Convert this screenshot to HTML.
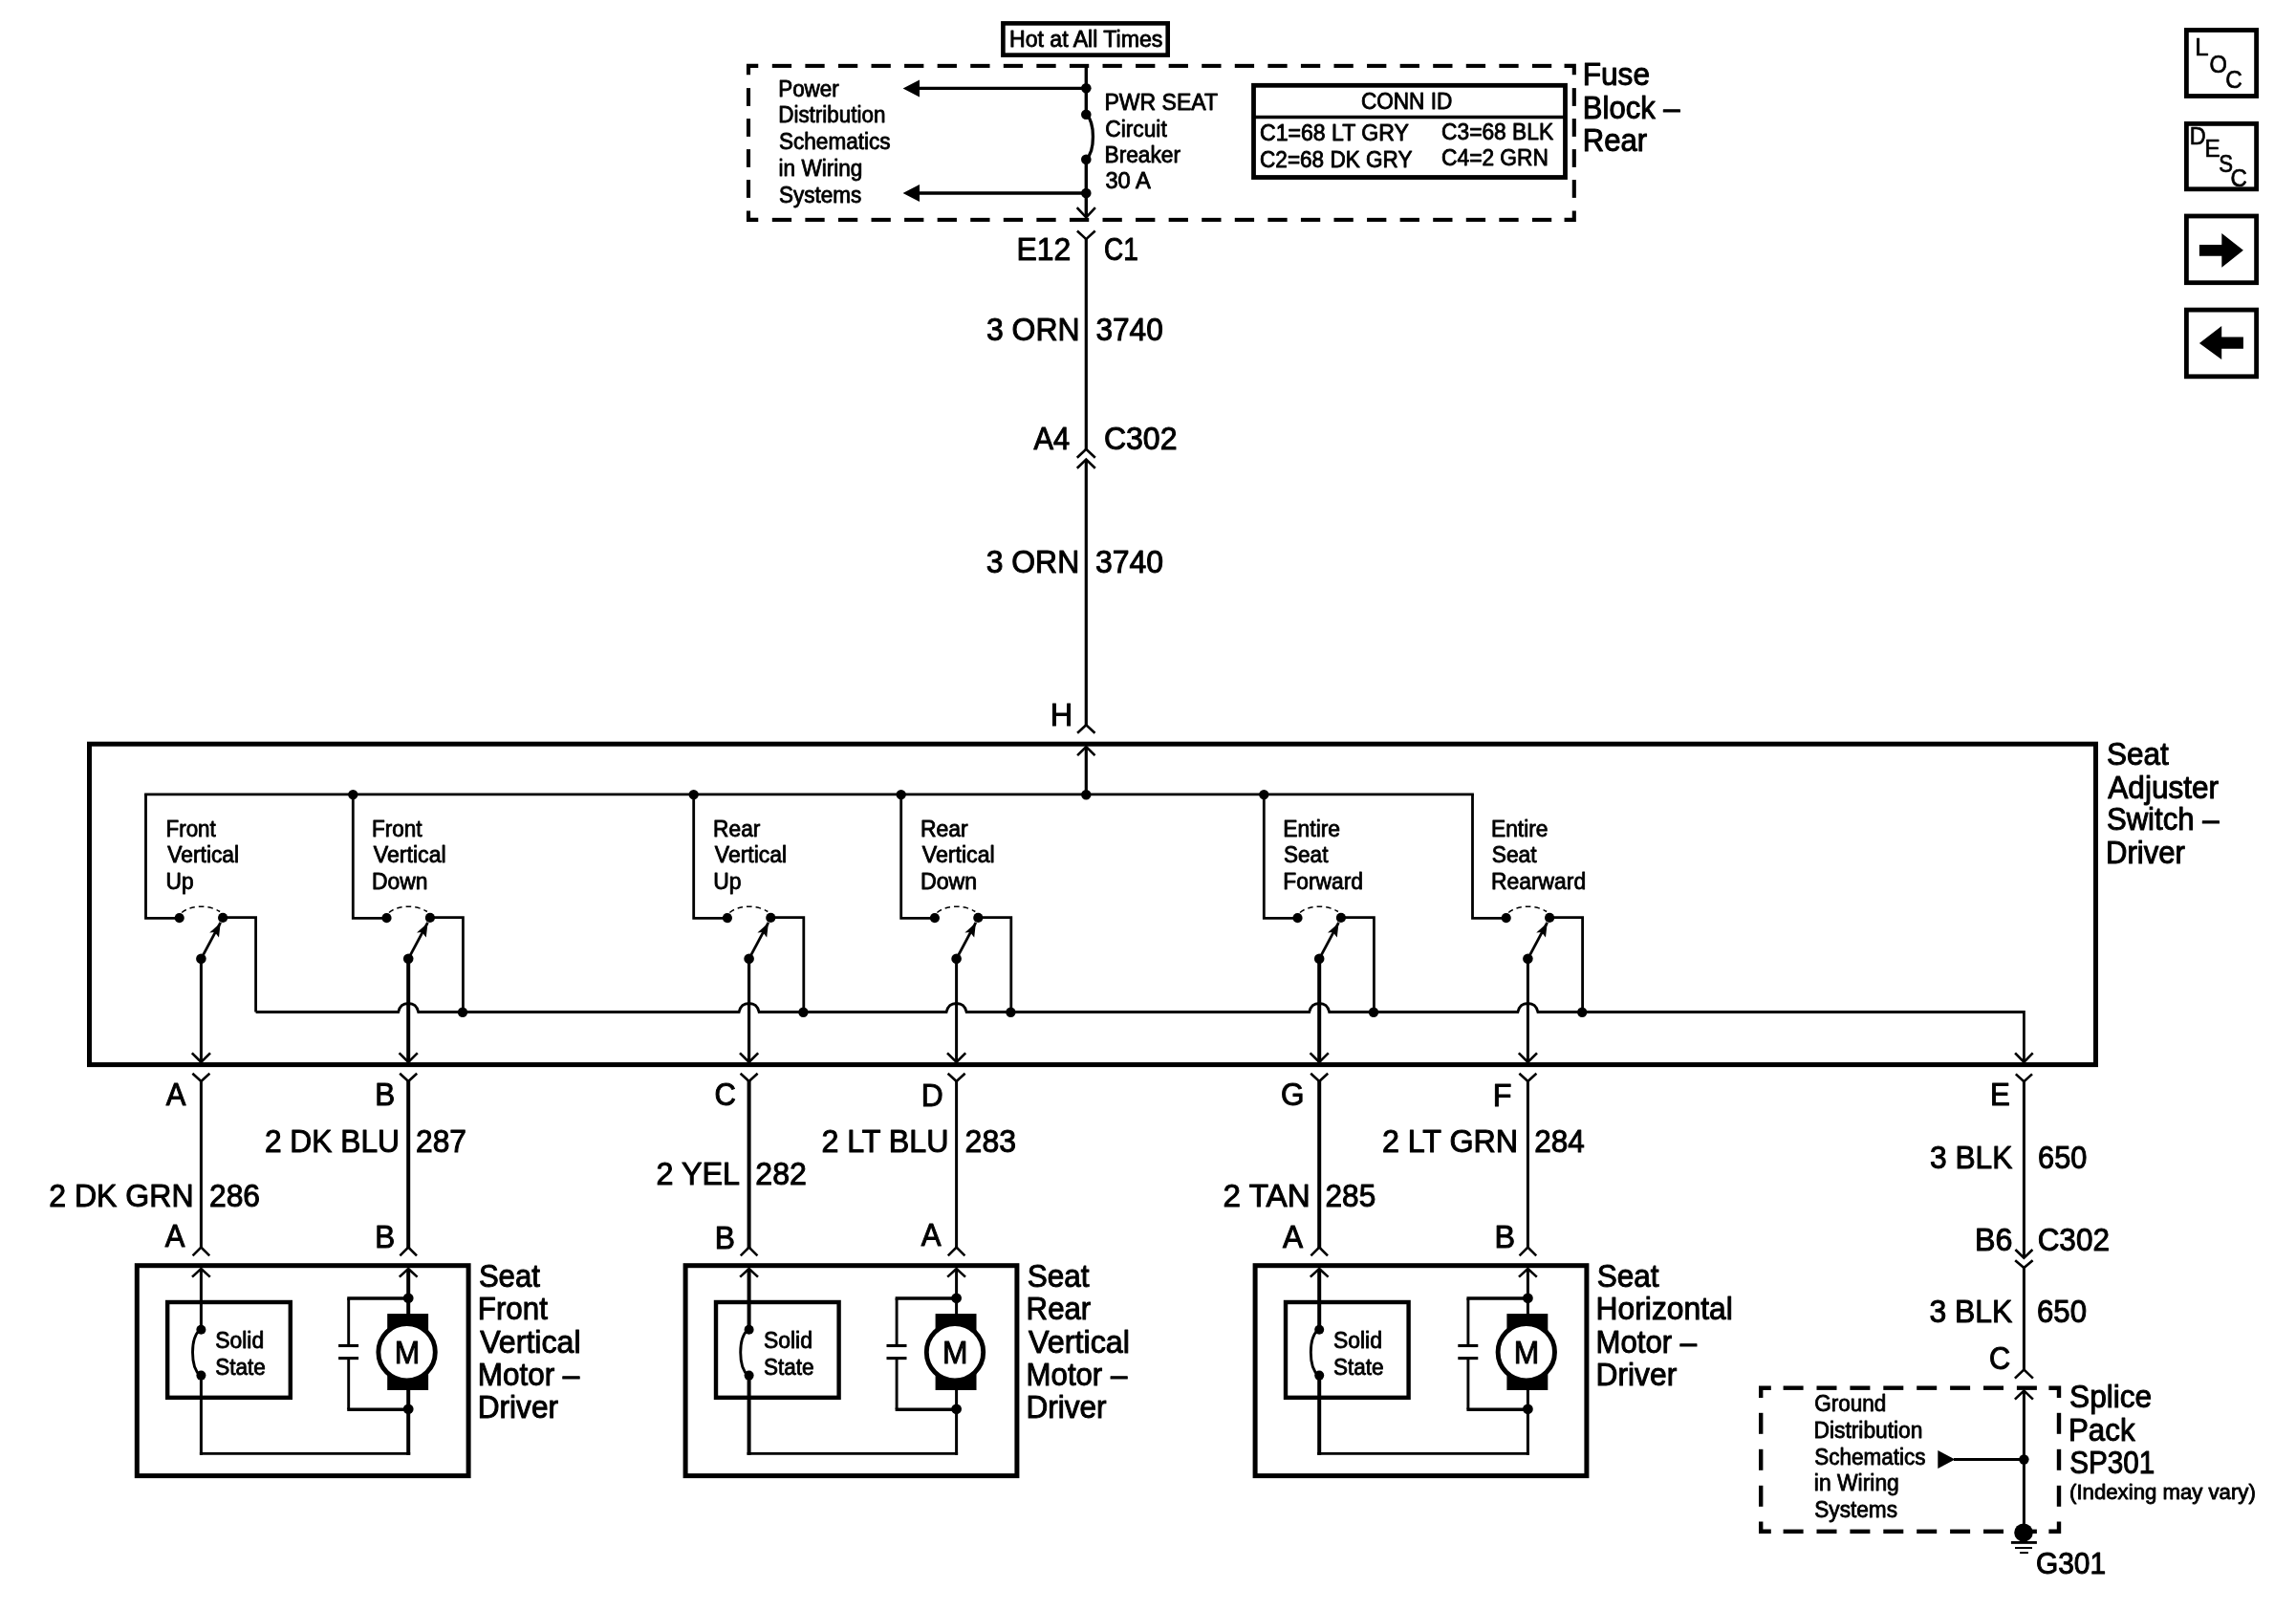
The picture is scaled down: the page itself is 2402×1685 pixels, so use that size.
<!DOCTYPE html>
<html><head><meta charset="utf-8"><title>Driver Seat Adjuster Schematic</title>
<style>
html,body{margin:0;padding:0;background:#fff;}
svg{display:block;will-change:transform;}
text{font-family:"Liberation Sans",sans-serif;fill:#000;}
</style></head>
<body>
<svg width="2402" height="1685" viewBox="0 0 2402 1685" fill="none" stroke="#000">
<rect x="0" y="0" width="2402" height="1685" fill="#fff" stroke="none"/>
<rect x="2287.4" y="31.5" width="73.2" height="69.00000000000001" stroke-width="4.8"/>
<rect x="2287.4" y="129.4" width="73.2" height="68.39999999999999" stroke-width="4.8"/>
<rect x="2287.4" y="226.0" width="73.2" height="69.70000000000003" stroke-width="4.8"/>
<rect x="2287.4" y="324.09999999999997" width="73.2" height="69.7" stroke-width="4.8"/>
<text x="2296.18" y="58.38" font-size="25.4" textLength="14.37" lengthAdjust="spacingAndGlyphs" stroke="#000" stroke-width="0.7" stroke-linejoin="round">L</text>
<text x="2311.39" y="75.97" font-size="25.4" textLength="18.40" lengthAdjust="spacingAndGlyphs" stroke="#000" stroke-width="0.7" stroke-linejoin="round">O</text>
<text x="2328.14" y="91.88" font-size="25.4" textLength="17.51" lengthAdjust="spacingAndGlyphs" stroke="#000" stroke-width="0.7" stroke-linejoin="round">C</text>
<text x="2290.67" y="151.28" font-size="25.4" textLength="16.99" lengthAdjust="spacingAndGlyphs" stroke="#000" stroke-width="0.7" stroke-linejoin="round">D</text>
<text x="2306.41" y="164.18" font-size="25.4" textLength="16.15" lengthAdjust="spacingAndGlyphs" stroke="#000" stroke-width="0.7" stroke-linejoin="round">E</text>
<text x="2321.25" y="179.78" font-size="25.4" textLength="14.78" lengthAdjust="spacingAndGlyphs" stroke="#000" stroke-width="0.7" stroke-linejoin="round">S</text>
<text x="2333.45" y="195.07" font-size="25.4" textLength="17.29" lengthAdjust="spacingAndGlyphs" stroke="#000" stroke-width="0.7" stroke-linejoin="round">C</text>
<polygon points="2300.9,255.9 2324.3,255.9 2324.3,244 2346.9,261.8 2324.3,279.7 2324.3,267.8 2300.9,267.8" fill="#000" stroke="none"/>
<polygon points="2346.9,352.5 2324.2,352.5 2324.2,341.1 2300.9,359 2324.2,376.1 2324.2,364.7 2346.9,364.7" fill="#000" stroke="none"/>
<rect x="1049.3999999999999" y="24.400000000000002" width="172.3000000000001" height="33.199999999999996" stroke-width="4.6"/>
<text x="1055.98" y="49.24" font-size="23.5" textLength="160.40" lengthAdjust="spacingAndGlyphs" stroke="#000" stroke-width="0.85" stroke-linejoin="round">Hot at All Times</text>
<polyline points="793.25,68.9 783.0,68.9 783.0,78.35000000000001" stroke-width="4.1" stroke-linejoin="miter" stroke-linecap="butt"/>
<polyline points="793.25,229.9 783.0,229.9 783.0,220.45000000000002" stroke-width="4.1" stroke-linejoin="miter" stroke-linecap="butt"/>
<polyline points="1636.55,68.9 1646.8,68.9 1646.8,78.35000000000001" stroke-width="4.1" stroke-linejoin="miter" stroke-linecap="butt"/>
<polyline points="1636.55,229.9 1646.8,229.9 1646.8,220.45000000000002" stroke-width="4.1" stroke-linejoin="miter" stroke-linecap="butt"/>
<line x1="807.8" y1="68.9" x2="828.0999999999999" y2="68.9" stroke-width="4.1" stroke-linecap="butt"/>
<line x1="807.8" y1="229.9" x2="828.0999999999999" y2="229.9" stroke-width="4.1" stroke-linecap="butt"/>
<line x1="842.37" y1="68.9" x2="862.67" y2="68.9" stroke-width="4.1" stroke-linecap="butt"/>
<line x1="842.37" y1="229.9" x2="862.67" y2="229.9" stroke-width="4.1" stroke-linecap="butt"/>
<line x1="876.94" y1="68.9" x2="897.24" y2="68.9" stroke-width="4.1" stroke-linecap="butt"/>
<line x1="876.94" y1="229.9" x2="897.24" y2="229.9" stroke-width="4.1" stroke-linecap="butt"/>
<line x1="911.5100000000001" y1="68.9" x2="931.8100000000001" y2="68.9" stroke-width="4.1" stroke-linecap="butt"/>
<line x1="911.5100000000001" y1="229.9" x2="931.8100000000001" y2="229.9" stroke-width="4.1" stroke-linecap="butt"/>
<line x1="946.0800000000002" y1="68.9" x2="966.3800000000001" y2="68.9" stroke-width="4.1" stroke-linecap="butt"/>
<line x1="946.0800000000002" y1="229.9" x2="966.3800000000001" y2="229.9" stroke-width="4.1" stroke-linecap="butt"/>
<line x1="980.6500000000002" y1="68.9" x2="1000.9500000000002" y2="68.9" stroke-width="4.1" stroke-linecap="butt"/>
<line x1="980.6500000000002" y1="229.9" x2="1000.9500000000002" y2="229.9" stroke-width="4.1" stroke-linecap="butt"/>
<line x1="1015.2200000000003" y1="68.9" x2="1035.5200000000002" y2="68.9" stroke-width="4.1" stroke-linecap="butt"/>
<line x1="1015.2200000000003" y1="229.9" x2="1035.5200000000002" y2="229.9" stroke-width="4.1" stroke-linecap="butt"/>
<line x1="1049.7900000000002" y1="68.9" x2="1070.0900000000001" y2="68.9" stroke-width="4.1" stroke-linecap="butt"/>
<line x1="1049.7900000000002" y1="229.9" x2="1070.0900000000001" y2="229.9" stroke-width="4.1" stroke-linecap="butt"/>
<line x1="1084.3600000000001" y1="68.9" x2="1104.66" y2="68.9" stroke-width="4.1" stroke-linecap="butt"/>
<line x1="1084.3600000000001" y1="229.9" x2="1104.66" y2="229.9" stroke-width="4.1" stroke-linecap="butt"/>
<line x1="1118.93" y1="68.9" x2="1139.23" y2="68.9" stroke-width="4.1" stroke-linecap="butt"/>
<line x1="1118.93" y1="229.9" x2="1139.23" y2="229.9" stroke-width="4.1" stroke-linecap="butt"/>
<line x1="1153.5" y1="68.9" x2="1173.8" y2="68.9" stroke-width="4.1" stroke-linecap="butt"/>
<line x1="1153.5" y1="229.9" x2="1173.8" y2="229.9" stroke-width="4.1" stroke-linecap="butt"/>
<line x1="1188.07" y1="68.9" x2="1208.37" y2="68.9" stroke-width="4.1" stroke-linecap="butt"/>
<line x1="1188.07" y1="229.9" x2="1208.37" y2="229.9" stroke-width="4.1" stroke-linecap="butt"/>
<line x1="1222.6399999999999" y1="68.9" x2="1242.9399999999998" y2="68.9" stroke-width="4.1" stroke-linecap="butt"/>
<line x1="1222.6399999999999" y1="229.9" x2="1242.9399999999998" y2="229.9" stroke-width="4.1" stroke-linecap="butt"/>
<line x1="1257.2099999999998" y1="68.9" x2="1277.5099999999998" y2="68.9" stroke-width="4.1" stroke-linecap="butt"/>
<line x1="1257.2099999999998" y1="229.9" x2="1277.5099999999998" y2="229.9" stroke-width="4.1" stroke-linecap="butt"/>
<line x1="1291.7799999999997" y1="68.9" x2="1312.0799999999997" y2="68.9" stroke-width="4.1" stroke-linecap="butt"/>
<line x1="1291.7799999999997" y1="229.9" x2="1312.0799999999997" y2="229.9" stroke-width="4.1" stroke-linecap="butt"/>
<line x1="1326.3499999999997" y1="68.9" x2="1346.6499999999996" y2="68.9" stroke-width="4.1" stroke-linecap="butt"/>
<line x1="1326.3499999999997" y1="229.9" x2="1346.6499999999996" y2="229.9" stroke-width="4.1" stroke-linecap="butt"/>
<line x1="1360.9199999999996" y1="68.9" x2="1381.2199999999996" y2="68.9" stroke-width="4.1" stroke-linecap="butt"/>
<line x1="1360.9199999999996" y1="229.9" x2="1381.2199999999996" y2="229.9" stroke-width="4.1" stroke-linecap="butt"/>
<line x1="1395.4899999999996" y1="68.9" x2="1415.7899999999995" y2="68.9" stroke-width="4.1" stroke-linecap="butt"/>
<line x1="1395.4899999999996" y1="229.9" x2="1415.7899999999995" y2="229.9" stroke-width="4.1" stroke-linecap="butt"/>
<line x1="1430.0599999999995" y1="68.9" x2="1450.3599999999994" y2="68.9" stroke-width="4.1" stroke-linecap="butt"/>
<line x1="1430.0599999999995" y1="229.9" x2="1450.3599999999994" y2="229.9" stroke-width="4.1" stroke-linecap="butt"/>
<line x1="1464.6299999999994" y1="68.9" x2="1484.9299999999994" y2="68.9" stroke-width="4.1" stroke-linecap="butt"/>
<line x1="1464.6299999999994" y1="229.9" x2="1484.9299999999994" y2="229.9" stroke-width="4.1" stroke-linecap="butt"/>
<line x1="1499.1999999999994" y1="68.9" x2="1519.4999999999993" y2="68.9" stroke-width="4.1" stroke-linecap="butt"/>
<line x1="1499.1999999999994" y1="229.9" x2="1519.4999999999993" y2="229.9" stroke-width="4.1" stroke-linecap="butt"/>
<line x1="1533.7699999999993" y1="68.9" x2="1554.0699999999993" y2="68.9" stroke-width="4.1" stroke-linecap="butt"/>
<line x1="1533.7699999999993" y1="229.9" x2="1554.0699999999993" y2="229.9" stroke-width="4.1" stroke-linecap="butt"/>
<line x1="1568.3399999999992" y1="68.9" x2="1588.6399999999992" y2="68.9" stroke-width="4.1" stroke-linecap="butt"/>
<line x1="1568.3399999999992" y1="229.9" x2="1588.6399999999992" y2="229.9" stroke-width="4.1" stroke-linecap="butt"/>
<line x1="1602.9099999999992" y1="68.9" x2="1623.2099999999991" y2="68.9" stroke-width="4.1" stroke-linecap="butt"/>
<line x1="1602.9099999999992" y1="229.9" x2="1623.2099999999991" y2="229.9" stroke-width="4.1" stroke-linecap="butt"/>
<line x1="783.0" y1="92.1" x2="783.0" y2="110.89999999999999" stroke-width="4.1" stroke-linecap="butt"/>
<line x1="1646.8" y1="92.1" x2="1646.8" y2="110.89999999999999" stroke-width="4.1" stroke-linecap="butt"/>
<line x1="783.0" y1="124.1" x2="783.0" y2="142.9" stroke-width="4.1" stroke-linecap="butt"/>
<line x1="1646.8" y1="124.1" x2="1646.8" y2="142.9" stroke-width="4.1" stroke-linecap="butt"/>
<line x1="783.0" y1="156.1" x2="783.0" y2="174.9" stroke-width="4.1" stroke-linecap="butt"/>
<line x1="1646.8" y1="156.1" x2="1646.8" y2="174.9" stroke-width="4.1" stroke-linecap="butt"/>
<line x1="783.0" y1="188.1" x2="783.0" y2="206.9" stroke-width="4.1" stroke-linecap="butt"/>
<line x1="1646.8" y1="188.1" x2="1646.8" y2="206.9" stroke-width="4.1" stroke-linecap="butt"/>
<line x1="1136.3" y1="67" x2="1136.3" y2="119.7" stroke-width="3.4" stroke-linecap="butt"/>
<line x1="1136.3" y1="166.7" x2="1136.3" y2="227" stroke-width="3.4" stroke-linecap="butt"/>
<circle cx="1136.3" cy="92.2" r="5.3" fill="#000" stroke="none"/>
<circle cx="1136.3" cy="119.7" r="5.3" fill="#000" stroke="none"/>
<circle cx="1136.3" cy="166.7" r="5.3" fill="#000" stroke="none"/>
<circle cx="1136.3" cy="202.0" r="5.3" fill="#000" stroke="none"/>
<path d="M1136.3,119.7 C1145.8,128 1145.8,158 1136.3,166.7" stroke-width="3.3" />
<line x1="960" y1="92.4" x2="1136.3" y2="92.4" stroke-width="3.2" stroke-linecap="butt"/>
<polygon points="944.6,92.4 962.0,83.4 962.0,101.4" fill="#000" stroke="none"/>
<line x1="960" y1="202.0" x2="1136.3" y2="202.0" stroke-width="3.4" stroke-linecap="butt"/>
<polygon points="944.6,202.0 962.0,193.0 962.0,211.0" fill="#000" stroke="none"/>
<polyline points="1126.7,217.10000000000002 1136.3,227.3 1145.8999999999999,217.10000000000002" stroke-width="2.6" stroke-linejoin="miter" stroke-linecap="butt"/>
<text x="814.23" y="101.14" font-size="23.5" textLength="63.47" lengthAdjust="spacingAndGlyphs" stroke="#000" stroke-width="0.85" stroke-linejoin="round">Power</text>
<text x="814.23" y="128.24" font-size="23.5" textLength="112.19" lengthAdjust="spacingAndGlyphs" stroke="#000" stroke-width="0.85" stroke-linejoin="round">Distribution</text>
<text x="815.01" y="155.74" font-size="23.5" textLength="116.58" lengthAdjust="spacingAndGlyphs" stroke="#000" stroke-width="0.85" stroke-linejoin="round">Schematics</text>
<text x="814.56" y="183.94" font-size="23.5" textLength="87.78" lengthAdjust="spacingAndGlyphs" stroke="#000" stroke-width="0.85" stroke-linejoin="round">in Wiring</text>
<text x="815.01" y="211.74" font-size="23.5" textLength="86.23" lengthAdjust="spacingAndGlyphs" stroke="#000" stroke-width="0.85" stroke-linejoin="round">Systems</text>
<text x="1155.48" y="115.14" font-size="23.5" textLength="118.58" lengthAdjust="spacingAndGlyphs" stroke="#000" stroke-width="0.85" stroke-linejoin="round">PWR SEAT</text>
<text x="1156.19" y="142.94" font-size="23.5" textLength="64.53" lengthAdjust="spacingAndGlyphs" stroke="#000" stroke-width="0.85" stroke-linejoin="round">Circuit</text>
<text x="1155.51" y="170.14" font-size="23.5" textLength="79.54" lengthAdjust="spacingAndGlyphs" stroke="#000" stroke-width="0.85" stroke-linejoin="round">Breaker</text>
<text x="1156.44" y="197.24" font-size="23.5" textLength="47.39" lengthAdjust="spacingAndGlyphs" stroke="#000" stroke-width="0.85" stroke-linejoin="round">30 A</text>
<rect x="1311.5" y="89.30000000000001" width="326.00000000000017" height="96.2" stroke-width="4.8"/>
<line x1="1311" y1="122.5" x2="1638" y2="122.5" stroke-width="3.3" stroke-linecap="butt"/>
<text x="1423.89" y="113.54" font-size="23.5" textLength="95.45" lengthAdjust="spacingAndGlyphs" stroke="#000" stroke-width="0.85" stroke-linejoin="round">CONN ID</text>
<text x="1318.07" y="147.44" font-size="23.5" textLength="155.80" lengthAdjust="spacingAndGlyphs" stroke="#000" stroke-width="0.85" stroke-linejoin="round">C1=68 LT GRY</text>
<text x="1318.10" y="174.94" font-size="23.5" textLength="159.35" lengthAdjust="spacingAndGlyphs" stroke="#000" stroke-width="0.85" stroke-linejoin="round">C2=68 DK GRY</text>
<text x="1508.09" y="145.64" font-size="23.5" textLength="117.02" lengthAdjust="spacingAndGlyphs" stroke="#000" stroke-width="0.85" stroke-linejoin="round">C3=68 BLK</text>
<text x="1508.09" y="173.14" font-size="23.5" textLength="111.77" lengthAdjust="spacingAndGlyphs" stroke="#000" stroke-width="0.85" stroke-linejoin="round">C4=2 GRN</text>
<text x="1655.77" y="89.00" font-size="32.6" textLength="70.19" lengthAdjust="spacingAndGlyphs" stroke="#000" stroke-width="1.0" stroke-linejoin="round">Fuse</text>
<text x="1655.82" y="124.10" font-size="32.6" textLength="101.76" lengthAdjust="spacingAndGlyphs" stroke="#000" stroke-width="1.0" stroke-linejoin="round">Block –</text>
<text x="1655.81" y="158.20" font-size="32.6" textLength="67.35" lengthAdjust="spacingAndGlyphs" stroke="#000" stroke-width="1.0" stroke-linejoin="round">Rear</text>
<polyline points="1126.8999999999999,241.5 1136.3,250.1 1145.7,241.5" stroke-width="2.6" stroke-linejoin="miter" stroke-linecap="butt"/>
<line x1="1136.3" y1="249.5" x2="1136.3" y2="470.5" stroke-width="3.2" stroke-linecap="butt"/>
<text x="1063.44" y="272.10" font-size="32.6" textLength="56.83" lengthAdjust="spacingAndGlyphs" stroke="#000" stroke-width="1.0" stroke-linejoin="round">E12</text>
<text x="1155.10" y="272.10" font-size="32.6" textLength="35.75" lengthAdjust="spacingAndGlyphs" stroke="#000" stroke-width="1.0" stroke-linejoin="round">C1</text>
<text x="1031.90" y="355.90" font-size="32.6" textLength="97.72" lengthAdjust="spacingAndGlyphs" stroke="#000" stroke-width="1.0" stroke-linejoin="round">3 ORN</text>
<text x="1146.41" y="355.90" font-size="32.6" textLength="70.44" lengthAdjust="spacingAndGlyphs" stroke="#000" stroke-width="1.0" stroke-linejoin="round">3740</text>
<text x="1081.50" y="469.80" font-size="32.6" textLength="37.67" lengthAdjust="spacingAndGlyphs" stroke="#000" stroke-width="1.0" stroke-linejoin="round">A4</text>
<text x="1154.90" y="469.80" font-size="32.6" textLength="76.65" lengthAdjust="spacingAndGlyphs" stroke="#000" stroke-width="1.0" stroke-linejoin="round">C302</text>
<polyline points="1126.8,478.8 1136.3,469.8 1145.8,478.8" stroke-width="2.6" stroke-linejoin="miter" stroke-linecap="butt"/>
<polyline points="1126.8,489.8 1136.3,480.6 1145.8,489.8" stroke-width="2.6" stroke-linejoin="miter" stroke-linecap="butt"/>
<line x1="1136.3" y1="481.5" x2="1136.3" y2="759.5" stroke-width="3.2" stroke-linecap="butt"/>
<text x="1031.70" y="599.10" font-size="32.6" textLength="97.51" lengthAdjust="spacingAndGlyphs" stroke="#000" stroke-width="1.0" stroke-linejoin="round">3 ORN</text>
<text x="1145.90" y="599.10" font-size="32.6" textLength="71.07" lengthAdjust="spacingAndGlyphs" stroke="#000" stroke-width="1.0" stroke-linejoin="round">3740</text>
<text x="1098.80" y="758.80" font-size="32.6" textLength="23.50" lengthAdjust="spacingAndGlyphs" stroke="#000" stroke-width="1.0" stroke-linejoin="round">H</text>
<polyline points="1127.1,766.6999999999999 1136.3,758.3 1145.5,766.6999999999999" stroke-width="2.6" stroke-linejoin="miter" stroke-linecap="butt"/>
<rect x="93.5" y="778.2" width="2099.0" height="335.39999999999986" stroke-width="5.0"/>
<polyline points="1127.1,790.2 1136.3,781.0 1145.5,790.2" stroke-width="2.6" stroke-linejoin="miter" stroke-linecap="butt"/>
<line x1="1136.3" y1="782" x2="1136.3" y2="831" stroke-width="3.2" stroke-linecap="butt"/>
<line x1="151.1" y1="830.8" x2="1541.9" y2="830.8" stroke-width="2.8" stroke-linecap="butt"/>
<circle cx="1136.3" cy="831.3" r="5.2" fill="#000" stroke="none"/>
<polyline points="152.5,830.8 152.5,960.3 187.7,960.3" stroke-width="2.8" stroke-linejoin="miter" stroke-linecap="butt"/>
<circle cx="187.7" cy="960.0999999999999" r="5.1" fill="#000" stroke="none"/>
<circle cx="233.1" cy="959.9" r="5.1" fill="#000" stroke="none"/>
<polyline points="233.1,959.6999999999999 267.6,959.6999999999999 267.6,1058.5" stroke-width="2.8" stroke-linejoin="miter" stroke-linecap="butt"/>
<path d="M190.2,954.5 C199.7,946.3 219.1,946.3 230.1,953.5" stroke-width="1.5" stroke-dasharray="5.5 4"/>
<circle cx="210.4" cy="1002.8" r="5.3" fill="#000" stroke="none"/>
<line x1="210.4" y1="1002.8" x2="230.7" y2="964.8" stroke-width="2.8" stroke-linecap="butt"/>
<polygon points="230.7,965.3 219.2,975.4 224.7,975.0999999999999 229.0,980.5999999999999" fill="#000" stroke="none"/>
<line x1="210.4" y1="1002.8" x2="210.4" y2="1111" stroke-width="3.0" stroke-linecap="butt"/>
<polyline points="200.8,1101.4 210.4,1111.0 220.0,1101.4" stroke-width="2.6" stroke-linejoin="miter" stroke-linecap="butt"/>
<text x="173.53" y="874.94" font-size="23.5" textLength="52.29" lengthAdjust="spacingAndGlyphs" stroke="#000" stroke-width="0.85" stroke-linejoin="round">Front</text>
<text x="175.27" y="902.44" font-size="23.5" textLength="74.88" lengthAdjust="spacingAndGlyphs" stroke="#000" stroke-width="0.85" stroke-linejoin="round">Vertical</text>
<text x="173.62" y="929.94" font-size="23.5" textLength="29.09" lengthAdjust="spacingAndGlyphs" stroke="#000" stroke-width="0.85" stroke-linejoin="round">Up</text>
<polyline points="369.3,830.8 369.3,960.3 404.5,960.3" stroke-width="2.8" stroke-linejoin="miter" stroke-linecap="butt"/>
<circle cx="369.3" cy="831.0999999999999" r="5.2" fill="#000" stroke="none"/>
<circle cx="404.5" cy="960.0999999999999" r="5.1" fill="#000" stroke="none"/>
<circle cx="449.9" cy="959.9" r="5.1" fill="#000" stroke="none"/>
<polyline points="449.9,959.6999999999999 484.4,959.6999999999999 484.4,1058.5" stroke-width="2.8" stroke-linejoin="miter" stroke-linecap="butt"/>
<circle cx="484.0" cy="1058.7" r="5.2" fill="#000" stroke="none"/>
<path d="M407.0,954.5 C416.5,946.3 435.9,946.3 446.9,953.5" stroke-width="1.5" stroke-dasharray="5.5 4"/>
<circle cx="427.2" cy="1002.8" r="5.3" fill="#000" stroke="none"/>
<line x1="427.2" y1="1002.8" x2="447.5" y2="964.8" stroke-width="2.8" stroke-linecap="butt"/>
<polygon points="447.5,965.3 436.0,975.4 441.5,975.0999999999999 445.8,980.5999999999999" fill="#000" stroke="none"/>
<line x1="427.2" y1="1002.8" x2="427.2" y2="1111" stroke-width="4.0" stroke-linecap="butt"/>
<polyline points="417.59999999999997,1101.4 427.2,1111.0 436.8,1101.4" stroke-width="2.6" stroke-linejoin="miter" stroke-linecap="butt"/>
<text x="389.02" y="874.94" font-size="23.5" textLength="52.60" lengthAdjust="spacingAndGlyphs" stroke="#000" stroke-width="0.85" stroke-linejoin="round">Front</text>
<text x="390.77" y="902.44" font-size="23.5" textLength="75.90" lengthAdjust="spacingAndGlyphs" stroke="#000" stroke-width="0.85" stroke-linejoin="round">Vertical</text>
<text x="389.00" y="929.94" font-size="23.5" textLength="58.45" lengthAdjust="spacingAndGlyphs" stroke="#000" stroke-width="0.85" stroke-linejoin="round">Down</text>
<polyline points="725.7,830.8 725.7,960.3 760.9000000000001,960.3" stroke-width="2.8" stroke-linejoin="miter" stroke-linecap="butt"/>
<circle cx="725.7" cy="831.0999999999999" r="5.2" fill="#000" stroke="none"/>
<circle cx="760.9000000000001" cy="960.0999999999999" r="5.1" fill="#000" stroke="none"/>
<circle cx="806.3000000000001" cy="959.9" r="5.1" fill="#000" stroke="none"/>
<polyline points="806.3000000000001,959.6999999999999 840.8000000000001,959.6999999999999 840.8000000000001,1058.5" stroke-width="2.8" stroke-linejoin="miter" stroke-linecap="butt"/>
<circle cx="840.4000000000001" cy="1058.7" r="5.2" fill="#000" stroke="none"/>
<path d="M763.4000000000001,954.5 C772.9000000000001,946.3 792.3000000000001,946.3 803.3000000000001,953.5" stroke-width="1.5" stroke-dasharray="5.5 4"/>
<circle cx="783.6" cy="1002.8" r="5.3" fill="#000" stroke="none"/>
<line x1="783.6" y1="1002.8" x2="803.9000000000001" y2="964.8" stroke-width="2.8" stroke-linecap="butt"/>
<polygon points="803.9000000000001,965.3 792.4000000000001,975.4 797.9000000000001,975.0999999999999 802.2,980.5999999999999" fill="#000" stroke="none"/>
<line x1="783.6" y1="1002.8" x2="783.6" y2="1111" stroke-width="3.2" stroke-linecap="butt"/>
<polyline points="774.0,1101.4 783.6,1111.0 793.2,1101.4" stroke-width="2.6" stroke-linejoin="miter" stroke-linecap="butt"/>
<text x="746.11" y="874.94" font-size="23.5" textLength="49.21" lengthAdjust="spacingAndGlyphs" stroke="#000" stroke-width="0.85" stroke-linejoin="round">Rear</text>
<text x="747.87" y="902.44" font-size="23.5" textLength="75.18" lengthAdjust="spacingAndGlyphs" stroke="#000" stroke-width="0.85" stroke-linejoin="round">Vertical</text>
<text x="746.21" y="929.94" font-size="23.5" textLength="29.31" lengthAdjust="spacingAndGlyphs" stroke="#000" stroke-width="0.85" stroke-linejoin="round">Up</text>
<polyline points="942.7,830.8 942.7,960.3 977.9000000000001,960.3" stroke-width="2.8" stroke-linejoin="miter" stroke-linecap="butt"/>
<circle cx="942.7" cy="831.0999999999999" r="5.2" fill="#000" stroke="none"/>
<circle cx="977.9000000000001" cy="960.0999999999999" r="5.1" fill="#000" stroke="none"/>
<circle cx="1023.3000000000001" cy="959.9" r="5.1" fill="#000" stroke="none"/>
<polyline points="1023.3000000000001,959.6999999999999 1057.8,959.6999999999999 1057.8,1058.5" stroke-width="2.8" stroke-linejoin="miter" stroke-linecap="butt"/>
<circle cx="1057.3999999999999" cy="1058.7" r="5.2" fill="#000" stroke="none"/>
<path d="M980.4000000000001,954.5 C989.9000000000001,946.3 1009.3000000000001,946.3 1020.3000000000001,953.5" stroke-width="1.5" stroke-dasharray="5.5 4"/>
<circle cx="1000.6" cy="1002.8" r="5.3" fill="#000" stroke="none"/>
<line x1="1000.6" y1="1002.8" x2="1020.9000000000001" y2="964.8" stroke-width="2.8" stroke-linecap="butt"/>
<polygon points="1020.9000000000001,965.3 1009.4000000000001,975.4 1014.9000000000001,975.0999999999999 1019.2,980.5999999999999" fill="#000" stroke="none"/>
<line x1="1000.6" y1="1002.8" x2="1000.6" y2="1111" stroke-width="3.0" stroke-linecap="butt"/>
<polyline points="991.0,1101.4 1000.6,1111.0 1010.2,1101.4" stroke-width="2.6" stroke-linejoin="miter" stroke-linecap="butt"/>
<text x="962.99" y="874.94" font-size="23.5" textLength="49.73" lengthAdjust="spacingAndGlyphs" stroke="#000" stroke-width="0.85" stroke-linejoin="round">Rear</text>
<text x="964.77" y="902.44" font-size="23.5" textLength="75.90" lengthAdjust="spacingAndGlyphs" stroke="#000" stroke-width="0.85" stroke-linejoin="round">Vertical</text>
<text x="962.97" y="929.94" font-size="23.5" textLength="59.29" lengthAdjust="spacingAndGlyphs" stroke="#000" stroke-width="0.85" stroke-linejoin="round">Down</text>
<polyline points="1322.3,830.8 1322.3,960.3 1357.5,960.3" stroke-width="2.8" stroke-linejoin="miter" stroke-linecap="butt"/>
<circle cx="1322.3" cy="831.0999999999999" r="5.2" fill="#000" stroke="none"/>
<circle cx="1357.5" cy="960.0999999999999" r="5.1" fill="#000" stroke="none"/>
<circle cx="1402.8999999999999" cy="959.9" r="5.1" fill="#000" stroke="none"/>
<polyline points="1402.8999999999999,959.6999999999999 1437.3999999999999,959.6999999999999 1437.3999999999999,1058.5" stroke-width="2.8" stroke-linejoin="miter" stroke-linecap="butt"/>
<circle cx="1436.9999999999998" cy="1058.7" r="5.2" fill="#000" stroke="none"/>
<path d="M1360.0,954.5 C1369.5,946.3 1388.8999999999999,946.3 1399.8999999999999,953.5" stroke-width="1.5" stroke-dasharray="5.5 4"/>
<circle cx="1380.2" cy="1002.8" r="5.3" fill="#000" stroke="none"/>
<line x1="1380.2" y1="1002.8" x2="1400.4999999999998" y2="964.8" stroke-width="2.8" stroke-linecap="butt"/>
<polygon points="1400.4999999999998,965.3 1388.9999999999998,975.4 1394.4999999999998,975.0999999999999 1398.7999999999997,980.5999999999999" fill="#000" stroke="none"/>
<line x1="1380.2" y1="1002.8" x2="1380.2" y2="1111" stroke-width="4.0" stroke-linecap="butt"/>
<polyline points="1370.6000000000001,1101.4 1380.2,1111.0 1389.8,1101.4" stroke-width="2.6" stroke-linejoin="miter" stroke-linecap="butt"/>
<text x="1342.29" y="874.94" font-size="23.5" textLength="59.81" lengthAdjust="spacingAndGlyphs" stroke="#000" stroke-width="0.85" stroke-linejoin="round">Entire</text>
<text x="1343.11" y="902.44" font-size="23.5" textLength="46.27" lengthAdjust="spacingAndGlyphs" stroke="#000" stroke-width="0.85" stroke-linejoin="round">Seat</text>
<text x="1342.30" y="929.94" font-size="23.5" textLength="83.70" lengthAdjust="spacingAndGlyphs" stroke="#000" stroke-width="0.85" stroke-linejoin="round">Forward</text>
<polyline points="1540.5,830.8 1540.5,960.3 1575.7,960.3" stroke-width="2.8" stroke-linejoin="miter" stroke-linecap="butt"/>
<circle cx="1575.7" cy="960.0999999999999" r="5.1" fill="#000" stroke="none"/>
<circle cx="1621.1" cy="959.9" r="5.1" fill="#000" stroke="none"/>
<polyline points="1621.1,959.6999999999999 1655.6,959.6999999999999 1655.6,1058.5" stroke-width="2.8" stroke-linejoin="miter" stroke-linecap="butt"/>
<circle cx="1655.1999999999998" cy="1058.7" r="5.2" fill="#000" stroke="none"/>
<path d="M1578.2,954.5 C1587.7,946.3 1607.1,946.3 1618.1,953.5" stroke-width="1.5" stroke-dasharray="5.5 4"/>
<circle cx="1598.4" cy="1002.8" r="5.3" fill="#000" stroke="none"/>
<line x1="1598.4" y1="1002.8" x2="1618.6999999999998" y2="964.8" stroke-width="2.8" stroke-linecap="butt"/>
<polygon points="1618.6999999999998,965.3 1607.1999999999998,975.4 1612.6999999999998,975.0999999999999 1616.9999999999998,980.5999999999999" fill="#000" stroke="none"/>
<line x1="1598.4" y1="1002.8" x2="1598.4" y2="1111" stroke-width="3.0" stroke-linecap="butt"/>
<polyline points="1588.8000000000002,1101.4 1598.4,1111.0 1608.0,1101.4" stroke-width="2.6" stroke-linejoin="miter" stroke-linecap="butt"/>
<text x="1560.00" y="874.94" font-size="23.5" textLength="59.49" lengthAdjust="spacingAndGlyphs" stroke="#000" stroke-width="0.85" stroke-linejoin="round">Entire</text>
<text x="1560.80" y="902.44" font-size="23.5" textLength="46.78" lengthAdjust="spacingAndGlyphs" stroke="#000" stroke-width="0.85" stroke-linejoin="round">Seat</text>
<text x="1560.00" y="929.94" font-size="23.5" textLength="99.11" lengthAdjust="spacingAndGlyphs" stroke="#000" stroke-width="0.85" stroke-linejoin="round">Rearward</text>
<path d="M267.6,1058.5 L416.7,1058.5 C418.2,1052.0 421.2,1049.5 427.2,1049.5 C433.2,1049.5 436.2,1052.0 437.7,1058.5 L773.1,1058.5 C774.6,1052.0 777.6,1049.5 783.6,1049.5 C789.6,1049.5 792.6,1052.0 794.1,1058.5 L990.1,1058.5 C991.6,1052.0 994.6,1049.5 1000.6,1049.5 C1006.6,1049.5 1009.6,1052.0 1011.1,1058.5 L1369.7,1058.5 C1371.2,1052.0 1374.2,1049.5 1380.2,1049.5 C1386.2,1049.5 1389.2,1052.0 1390.7,1058.5 L1587.9,1058.5 C1589.4,1052.0 1592.4,1049.5 1598.4,1049.5 C1604.4,1049.5 1607.4,1052.0 1608.9,1058.5 L2117.4,1058.5 L2117.4,1111" stroke-width="2.8" stroke-linejoin="miter"/>
<polyline points="2108.1,1101.4 2117.4,1111.0 2126.7000000000003,1101.4" stroke-width="2.6" stroke-linejoin="miter" stroke-linecap="butt"/>
<text x="2203.88" y="800.10" font-size="32.6" textLength="64.87" lengthAdjust="spacingAndGlyphs" stroke="#000" stroke-width="1.0" stroke-linejoin="round">Seat</text>
<text x="2205.30" y="835.20" font-size="32.6" textLength="115.81" lengthAdjust="spacingAndGlyphs" stroke="#000" stroke-width="1.0" stroke-linejoin="round">Adjuster</text>
<text x="2203.90" y="868.20" font-size="32.6" textLength="117.58" lengthAdjust="spacingAndGlyphs" stroke="#000" stroke-width="1.0" stroke-linejoin="round">Switch –</text>
<text x="2202.91" y="903.20" font-size="32.6" textLength="83.01" lengthAdjust="spacingAndGlyphs" stroke="#000" stroke-width="1.0" stroke-linejoin="round">Driver</text>
<polyline points="201.4,1122.8 210.4,1131.0 219.4,1122.8" stroke-width="2.6" stroke-linejoin="miter" stroke-linecap="butt"/>
<line x1="210.4" y1="1130.5" x2="210.4" y2="1305.5" stroke-width="3.0" stroke-linecap="butt"/>
<polyline points="201.6,1313.3999999999999 210.4,1304.6 219.20000000000002,1313.3999999999999" stroke-width="2.6" stroke-linejoin="miter" stroke-linecap="butt"/>
<text x="173.80" y="1155.80" font-size="32.6" textLength="20.66" lengthAdjust="spacingAndGlyphs" stroke="#000" stroke-width="1.0" stroke-linejoin="round">A</text>
<text x="172.80" y="1304.00" font-size="32.6" textLength="20.66" lengthAdjust="spacingAndGlyphs" stroke="#000" stroke-width="1.0" stroke-linejoin="round">A</text>
<text x="51.20" y="1261.90" font-size="32.6" textLength="151.39" lengthAdjust="spacingAndGlyphs" stroke="#000" stroke-width="1.0" stroke-linejoin="round">2 DK GRN</text>
<text x="218.91" y="1261.90" font-size="32.6" textLength="53.18" lengthAdjust="spacingAndGlyphs" stroke="#000" stroke-width="1.0" stroke-linejoin="round">286</text>
<polyline points="418.2,1122.8 427.2,1131.0 436.2,1122.8" stroke-width="2.6" stroke-linejoin="miter" stroke-linecap="butt"/>
<line x1="427.2" y1="1130.5" x2="427.2" y2="1305.5" stroke-width="4.0" stroke-linecap="butt"/>
<polyline points="418.4,1313.3999999999999 427.2,1304.6 436.0,1313.3999999999999" stroke-width="2.6" stroke-linejoin="miter" stroke-linecap="butt"/>
<text x="392.19" y="1155.80" font-size="32.6" textLength="20.94" lengthAdjust="spacingAndGlyphs" stroke="#000" stroke-width="1.0" stroke-linejoin="round">B</text>
<text x="392.19" y="1304.70" font-size="32.6" textLength="20.94" lengthAdjust="spacingAndGlyphs" stroke="#000" stroke-width="1.0" stroke-linejoin="round">B</text>
<text x="276.91" y="1204.90" font-size="32.6" textLength="141.03" lengthAdjust="spacingAndGlyphs" stroke="#000" stroke-width="1.0" stroke-linejoin="round">2 DK BLU</text>
<text x="435.01" y="1204.90" font-size="32.6" textLength="52.92" lengthAdjust="spacingAndGlyphs" stroke="#000" stroke-width="1.0" stroke-linejoin="round">287</text>
<polyline points="774.6,1122.8 783.6,1131.0 792.6,1122.8" stroke-width="2.6" stroke-linejoin="miter" stroke-linecap="butt"/>
<line x1="783.6" y1="1130.5" x2="783.6" y2="1305.5" stroke-width="4.0" stroke-linecap="butt"/>
<polyline points="774.8000000000001,1313.3999999999999 783.6,1304.6 792.4,1313.3999999999999" stroke-width="2.6" stroke-linejoin="miter" stroke-linecap="butt"/>
<text x="747.45" y="1156.00" font-size="32.6" textLength="22.40" lengthAdjust="spacingAndGlyphs" stroke="#000" stroke-width="1.0" stroke-linejoin="round">C</text>
<text x="747.86" y="1305.70" font-size="32.6" textLength="21.19" lengthAdjust="spacingAndGlyphs" stroke="#000" stroke-width="1.0" stroke-linejoin="round">B</text>
<text x="686.58" y="1238.80" font-size="32.6" textLength="87.52" lengthAdjust="spacingAndGlyphs" stroke="#000" stroke-width="1.0" stroke-linejoin="round">2 YEL</text>
<text x="790.29" y="1238.80" font-size="32.6" textLength="53.56" lengthAdjust="spacingAndGlyphs" stroke="#000" stroke-width="1.0" stroke-linejoin="round">282</text>
<polyline points="991.6,1122.8 1000.6,1131.0 1009.6,1122.8" stroke-width="2.6" stroke-linejoin="miter" stroke-linecap="butt"/>
<line x1="1000.6" y1="1130.5" x2="1000.6" y2="1305.5" stroke-width="3.0" stroke-linecap="butt"/>
<polyline points="991.8000000000001,1313.3999999999999 1000.6,1304.6 1009.4,1313.3999999999999" stroke-width="2.6" stroke-linejoin="miter" stroke-linecap="butt"/>
<text x="963.76" y="1157.00" font-size="32.6" textLength="22.94" lengthAdjust="spacingAndGlyphs" stroke="#000" stroke-width="1.0" stroke-linejoin="round">D</text>
<text x="963.80" y="1303.10" font-size="32.6" textLength="20.76" lengthAdjust="spacingAndGlyphs" stroke="#000" stroke-width="1.0" stroke-linejoin="round">A</text>
<text x="859.39" y="1204.70" font-size="32.6" textLength="133.21" lengthAdjust="spacingAndGlyphs" stroke="#000" stroke-width="1.0" stroke-linejoin="round">2 LT BLU</text>
<text x="1009.60" y="1204.70" font-size="32.6" textLength="53.39" lengthAdjust="spacingAndGlyphs" stroke="#000" stroke-width="1.0" stroke-linejoin="round">283</text>
<polyline points="1371.2,1122.8 1380.2,1131.0 1389.2,1122.8" stroke-width="2.6" stroke-linejoin="miter" stroke-linecap="butt"/>
<line x1="1380.2" y1="1130.5" x2="1380.2" y2="1305.5" stroke-width="4.0" stroke-linecap="butt"/>
<polyline points="1371.4,1313.3999999999999 1380.2,1304.6 1389.0,1313.3999999999999" stroke-width="2.6" stroke-linejoin="miter" stroke-linecap="butt"/>
<text x="1339.93" y="1155.80" font-size="32.6" textLength="24.46" lengthAdjust="spacingAndGlyphs" stroke="#000" stroke-width="1.0" stroke-linejoin="round">G</text>
<text x="1341.90" y="1304.50" font-size="32.6" textLength="21.06" lengthAdjust="spacingAndGlyphs" stroke="#000" stroke-width="1.0" stroke-linejoin="round">A</text>
<text x="1279.64" y="1261.90" font-size="32.6" textLength="90.99" lengthAdjust="spacingAndGlyphs" stroke="#000" stroke-width="1.0" stroke-linejoin="round">2 TAN</text>
<text x="1386.52" y="1261.90" font-size="32.6" textLength="52.78" lengthAdjust="spacingAndGlyphs" stroke="#000" stroke-width="1.0" stroke-linejoin="round">285</text>
<polyline points="1589.4,1122.8 1598.4,1131.0 1607.4,1122.8" stroke-width="2.6" stroke-linejoin="miter" stroke-linecap="butt"/>
<line x1="1598.4" y1="1130.5" x2="1598.4" y2="1305.5" stroke-width="3.0" stroke-linecap="butt"/>
<polyline points="1589.6000000000001,1313.3999999999999 1598.4,1304.6 1607.2,1313.3999999999999" stroke-width="2.6" stroke-linejoin="miter" stroke-linecap="butt"/>
<text x="1561.82" y="1157.00" font-size="32.6" textLength="19.72" lengthAdjust="spacingAndGlyphs" stroke="#000" stroke-width="1.0" stroke-linejoin="round">F</text>
<text x="1563.51" y="1304.70" font-size="32.6" textLength="21.57" lengthAdjust="spacingAndGlyphs" stroke="#000" stroke-width="1.0" stroke-linejoin="round">B</text>
<text x="1445.89" y="1204.70" font-size="32.6" textLength="142.26" lengthAdjust="spacingAndGlyphs" stroke="#000" stroke-width="1.0" stroke-linejoin="round">2 LT GRN</text>
<text x="1605.32" y="1204.70" font-size="32.6" textLength="52.57" lengthAdjust="spacingAndGlyphs" stroke="#000" stroke-width="1.0" stroke-linejoin="round">284</text>
<rect x="143.3" y="1323.7" width="346.8" height="219.89999999999986" stroke-width="5.0"/>
<polyline points="201.0,1335.6 210.4,1327.0 219.8,1335.6" stroke-width="2.6" stroke-linejoin="miter" stroke-linecap="butt"/>
<line x1="210.4" y1="1327.5" x2="210.4" y2="1391" stroke-width="3.0" stroke-linecap="butt"/>
<line x1="210.4" y1="1438.5" x2="210.4" y2="1521.8" stroke-width="3.0" stroke-linecap="butt"/>
<line x1="208.9" y1="1520.4" x2="429.2" y2="1520.4" stroke-width="2.8" stroke-linecap="butt"/>
<line x1="427.2" y1="1521.8" x2="427.2" y2="1450" stroke-width="4.0" stroke-linecap="butt"/>
<rect x="175.20000000000002" y="1362.0" width="128.6" height="99.8" stroke-width="4.4"/>
<circle cx="210.4" cy="1390.8" r="5.0" fill="#000" stroke="none"/>
<circle cx="210.4" cy="1438.6" r="5.0" fill="#000" stroke="none"/>
<path d="M209.4,1390.8 C198.9,1399 198.9,1430 209.4,1438.6" stroke-width="2.9" />
<text x="225.19" y="1409.84" font-size="23.5" textLength="50.94" lengthAdjust="spacingAndGlyphs" stroke="#000" stroke-width="0.85" stroke-linejoin="round">Solid</text>
<text x="225.21" y="1437.74" font-size="23.5" textLength="52.52" lengthAdjust="spacingAndGlyphs" stroke="#000" stroke-width="0.85" stroke-linejoin="round">State</text>
<polyline points="417.8,1335.6 427.2,1327.0 436.59999999999997,1335.6" stroke-width="2.6" stroke-linejoin="miter" stroke-linecap="butt"/>
<line x1="427.2" y1="1327.5" x2="427.2" y2="1380" stroke-width="4.0" stroke-linecap="butt"/>
<circle cx="427.2" cy="1357.8" r="5.4" fill="#000" stroke="none"/>
<circle cx="427.2" cy="1473.8" r="5.4" fill="#000" stroke="none"/>
<line x1="363.25" y1="1357.9" x2="427.2" y2="1357.9" stroke-width="3.5" stroke-linecap="butt"/>
<line x1="364.7" y1="1357.9" x2="364.7" y2="1407.5" stroke-width="2.9" stroke-linecap="butt"/>
<line x1="354.09999999999997" y1="1407.5" x2="375.09999999999997" y2="1407.5" stroke-width="3.1" stroke-linecap="butt"/>
<line x1="354.09999999999997" y1="1420.6" x2="375.09999999999997" y2="1420.6" stroke-width="3.1" stroke-linecap="butt"/>
<line x1="363.25" y1="1474.2" x2="427.2" y2="1474.2" stroke-width="3.5" stroke-linecap="butt"/>
<line x1="364.7" y1="1420.6" x2="364.7" y2="1474.2" stroke-width="2.9" stroke-linecap="butt"/>
<rect x="405.2" y="1374.1" width="42.9" height="79.9" fill="#000" stroke="none"/>
<circle cx="425.59999999999997" cy="1414.2" r="29.7" fill="#fff" stroke-width="4.9"/>
<text x="412.65" y="1426.20" font-size="33.6" textLength="26.51" lengthAdjust="spacingAndGlyphs" stroke="#000" stroke-width="1.0" stroke-linejoin="round">M</text>
<text x="500.90" y="1345.90" font-size="32.6" textLength="63.94" lengthAdjust="spacingAndGlyphs" stroke="#000" stroke-width="1.0" stroke-linejoin="round">Seat</text>
<text x="499.79" y="1380.25" font-size="32.6" textLength="73.11" lengthAdjust="spacingAndGlyphs" stroke="#000" stroke-width="1.0" stroke-linejoin="round">Front</text>
<text x="502.22" y="1414.60" font-size="32.6" textLength="105.35" lengthAdjust="spacingAndGlyphs" stroke="#000" stroke-width="1.0" stroke-linejoin="round">Vertical</text>
<text x="499.79" y="1448.95" font-size="32.6" textLength="106.54" lengthAdjust="spacingAndGlyphs" stroke="#000" stroke-width="1.0" stroke-linejoin="round">Motor –</text>
<text x="499.77" y="1483.30" font-size="32.6" textLength="84.25" lengthAdjust="spacingAndGlyphs" stroke="#000" stroke-width="1.0" stroke-linejoin="round">Driver</text>
<rect x="717.1" y="1323.7" width="346.80000000000007" height="219.89999999999986" stroke-width="5.0"/>
<polyline points="774.2,1335.6 783.6,1327.0 793.0,1335.6" stroke-width="2.6" stroke-linejoin="miter" stroke-linecap="butt"/>
<line x1="783.6" y1="1327.5" x2="783.6" y2="1391" stroke-width="4.0" stroke-linecap="butt"/>
<line x1="783.6" y1="1438.5" x2="783.6" y2="1521.8" stroke-width="4.0" stroke-linecap="butt"/>
<line x1="781.6" y1="1520.4" x2="1002.1" y2="1520.4" stroke-width="2.8" stroke-linecap="butt"/>
<line x1="1000.6" y1="1521.8" x2="1000.6" y2="1450" stroke-width="3.0" stroke-linecap="butt"/>
<rect x="749.0" y="1362.0" width="128.6" height="99.8" stroke-width="4.4"/>
<circle cx="783.6" cy="1390.8" r="5.0" fill="#000" stroke="none"/>
<circle cx="783.6" cy="1438.6" r="5.0" fill="#000" stroke="none"/>
<path d="M782.6,1390.8 C772.1,1399 772.1,1430 782.6,1438.6" stroke-width="2.9" />
<text x="798.99" y="1409.84" font-size="23.5" textLength="50.94" lengthAdjust="spacingAndGlyphs" stroke="#000" stroke-width="0.85" stroke-linejoin="round">Solid</text>
<text x="799.01" y="1437.74" font-size="23.5" textLength="52.52" lengthAdjust="spacingAndGlyphs" stroke="#000" stroke-width="0.85" stroke-linejoin="round">State</text>
<polyline points="991.2,1335.6 1000.6,1327.0 1010.0,1335.6" stroke-width="2.6" stroke-linejoin="miter" stroke-linecap="butt"/>
<line x1="1000.6" y1="1327.5" x2="1000.6" y2="1380" stroke-width="3.0" stroke-linecap="butt"/>
<circle cx="1000.6" cy="1357.8" r="5.4" fill="#000" stroke="none"/>
<circle cx="1000.6" cy="1473.8" r="5.4" fill="#000" stroke="none"/>
<line x1="936.65" y1="1357.9" x2="1000.6" y2="1357.9" stroke-width="3.5" stroke-linecap="butt"/>
<line x1="938.1" y1="1357.9" x2="938.1" y2="1407.5" stroke-width="2.9" stroke-linecap="butt"/>
<line x1="927.5" y1="1407.5" x2="948.5" y2="1407.5" stroke-width="3.1" stroke-linecap="butt"/>
<line x1="927.5" y1="1420.6" x2="948.5" y2="1420.6" stroke-width="3.1" stroke-linecap="butt"/>
<line x1="936.65" y1="1474.2" x2="1000.6" y2="1474.2" stroke-width="3.5" stroke-linecap="butt"/>
<line x1="938.1" y1="1420.6" x2="938.1" y2="1474.2" stroke-width="2.9" stroke-linecap="butt"/>
<rect x="978.6" y="1374.1" width="42.9" height="79.9" fill="#000" stroke="none"/>
<circle cx="999.0" cy="1414.2" r="29.7" fill="#fff" stroke-width="4.9"/>
<text x="986.05" y="1426.20" font-size="33.6" textLength="26.51" lengthAdjust="spacingAndGlyphs" stroke="#000" stroke-width="1.0" stroke-linejoin="round">M</text>
<text x="1074.68" y="1345.90" font-size="32.6" textLength="64.87" lengthAdjust="spacingAndGlyphs" stroke="#000" stroke-width="1.0" stroke-linejoin="round">Seat</text>
<text x="1073.60" y="1380.25" font-size="32.6" textLength="67.67" lengthAdjust="spacingAndGlyphs" stroke="#000" stroke-width="1.0" stroke-linejoin="round">Rear</text>
<text x="1076.02" y="1414.60" font-size="32.6" textLength="105.96" lengthAdjust="spacingAndGlyphs" stroke="#000" stroke-width="1.0" stroke-linejoin="round">Vertical</text>
<text x="1073.61" y="1448.95" font-size="32.6" textLength="105.62" lengthAdjust="spacingAndGlyphs" stroke="#000" stroke-width="1.0" stroke-linejoin="round">Motor –</text>
<text x="1073.58" y="1483.30" font-size="32.6" textLength="84.04" lengthAdjust="spacingAndGlyphs" stroke="#000" stroke-width="1.0" stroke-linejoin="round">Driver</text>
<rect x="1313.1" y="1323.7" width="346.79999999999995" height="219.89999999999986" stroke-width="5.0"/>
<polyline points="1370.8,1335.6 1380.2,1327.0 1389.6000000000001,1335.6" stroke-width="2.6" stroke-linejoin="miter" stroke-linecap="butt"/>
<line x1="1380.2" y1="1327.5" x2="1380.2" y2="1391" stroke-width="4.0" stroke-linecap="butt"/>
<line x1="1380.2" y1="1438.5" x2="1380.2" y2="1521.8" stroke-width="4.0" stroke-linecap="butt"/>
<line x1="1378.2" y1="1520.4" x2="1599.9" y2="1520.4" stroke-width="2.8" stroke-linecap="butt"/>
<line x1="1598.4" y1="1521.8" x2="1598.4" y2="1450" stroke-width="3.0" stroke-linecap="butt"/>
<rect x="1345.0" y="1362.0" width="128.6" height="99.8" stroke-width="4.4"/>
<circle cx="1380.2" cy="1390.8" r="5.0" fill="#000" stroke="none"/>
<circle cx="1380.2" cy="1438.6" r="5.0" fill="#000" stroke="none"/>
<path d="M1379.2,1390.8 C1368.7,1399 1368.7,1430 1379.2,1438.6" stroke-width="2.9" />
<text x="1394.99" y="1409.84" font-size="23.5" textLength="50.94" lengthAdjust="spacingAndGlyphs" stroke="#000" stroke-width="0.85" stroke-linejoin="round">Solid</text>
<text x="1395.01" y="1437.74" font-size="23.5" textLength="52.52" lengthAdjust="spacingAndGlyphs" stroke="#000" stroke-width="0.85" stroke-linejoin="round">State</text>
<polyline points="1589.0,1335.6 1598.4,1327.0 1607.8000000000002,1335.6" stroke-width="2.6" stroke-linejoin="miter" stroke-linecap="butt"/>
<line x1="1598.4" y1="1327.5" x2="1598.4" y2="1380" stroke-width="3.0" stroke-linecap="butt"/>
<circle cx="1598.4" cy="1357.8" r="5.4" fill="#000" stroke="none"/>
<circle cx="1598.4" cy="1473.8" r="5.4" fill="#000" stroke="none"/>
<line x1="1534.45" y1="1357.9" x2="1598.4" y2="1357.9" stroke-width="3.5" stroke-linecap="butt"/>
<line x1="1535.9" y1="1357.9" x2="1535.9" y2="1407.5" stroke-width="2.9" stroke-linecap="butt"/>
<line x1="1525.3000000000002" y1="1407.5" x2="1546.3000000000002" y2="1407.5" stroke-width="3.1" stroke-linecap="butt"/>
<line x1="1525.3000000000002" y1="1420.6" x2="1546.3000000000002" y2="1420.6" stroke-width="3.1" stroke-linecap="butt"/>
<line x1="1534.45" y1="1474.2" x2="1598.4" y2="1474.2" stroke-width="3.5" stroke-linecap="butt"/>
<line x1="1535.9" y1="1420.6" x2="1535.9" y2="1474.2" stroke-width="2.9" stroke-linecap="butt"/>
<rect x="1576.4" y="1374.1" width="42.9" height="79.9" fill="#000" stroke="none"/>
<circle cx="1596.8000000000002" cy="1414.2" r="29.7" fill="#fff" stroke-width="4.9"/>
<text x="1583.85" y="1426.20" font-size="33.6" textLength="26.51" lengthAdjust="spacingAndGlyphs" stroke="#000" stroke-width="1.0" stroke-linejoin="round">M</text>
<text x="1670.68" y="1345.90" font-size="32.6" textLength="64.87" lengthAdjust="spacingAndGlyphs" stroke="#000" stroke-width="1.0" stroke-linejoin="round">Seat</text>
<text x="1669.55" y="1380.25" font-size="32.6" textLength="143.30" lengthAdjust="spacingAndGlyphs" stroke="#000" stroke-width="1.0" stroke-linejoin="round">Horizontal</text>
<text x="1669.61" y="1414.60" font-size="32.6" textLength="105.42" lengthAdjust="spacingAndGlyphs" stroke="#000" stroke-width="1.0" stroke-linejoin="round">Motor –</text>
<text x="1669.56" y="1448.95" font-size="32.6" textLength="84.67" lengthAdjust="spacingAndGlyphs" stroke="#000" stroke-width="1.0" stroke-linejoin="round">Driver</text>
<polyline points="2108.8,1123.4 2117.4,1131.2 2126.0,1123.4" stroke-width="2.6" stroke-linejoin="miter" stroke-linecap="butt"/>
<line x1="2117.4" y1="1130.5" x2="2117.4" y2="1315.5" stroke-width="3.0" stroke-linecap="butt"/>
<text x="2082.00" y="1155.80" font-size="32.6" textLength="20.81" lengthAdjust="spacingAndGlyphs" stroke="#000" stroke-width="1.0" stroke-linejoin="round">E</text>
<text x="2019.01" y="1221.50" font-size="32.6" textLength="86.38" lengthAdjust="spacingAndGlyphs" stroke="#000" stroke-width="1.0" stroke-linejoin="round">3 BLK</text>
<text x="2132.06" y="1221.50" font-size="32.6" textLength="51.32" lengthAdjust="spacingAndGlyphs" stroke="#000" stroke-width="1.0" stroke-linejoin="round">650</text>
<text x="2066.02" y="1307.70" font-size="32.6" textLength="39.47" lengthAdjust="spacingAndGlyphs" stroke="#000" stroke-width="1.0" stroke-linejoin="round">B6</text>
<text x="2131.63" y="1307.70" font-size="32.6" textLength="75.29" lengthAdjust="spacingAndGlyphs" stroke="#000" stroke-width="1.0" stroke-linejoin="round">C302</text>
<polyline points="2108.4,1307.0 2117.4,1315.6 2126.4,1307.0" stroke-width="2.6" stroke-linejoin="miter" stroke-linecap="butt"/>
<polyline points="2108.2000000000003,1318.2 2117.4,1326.0 2126.6,1318.2" stroke-width="2.6" stroke-linejoin="miter" stroke-linecap="butt"/>
<line x1="2117.4" y1="1325.5" x2="2117.4" y2="1434" stroke-width="3.0" stroke-linecap="butt"/>
<text x="2018.40" y="1383.20" font-size="32.6" textLength="86.99" lengthAdjust="spacingAndGlyphs" stroke="#000" stroke-width="1.0" stroke-linejoin="round">3 BLK</text>
<text x="2130.94" y="1383.20" font-size="32.6" textLength="52.06" lengthAdjust="spacingAndGlyphs" stroke="#000" stroke-width="1.0" stroke-linejoin="round">650</text>
<text x="2080.96" y="1432.20" font-size="32.6" textLength="22.18" lengthAdjust="spacingAndGlyphs" stroke="#000" stroke-width="1.0" stroke-linejoin="round">C</text>
<polyline points="2107.9,1441.6 2117.4,1432.6 2126.9,1441.6" stroke-width="2.6" stroke-linejoin="miter" stroke-linecap="butt"/>
<polyline points="1852.8,1451.7 1842.2,1451.7 1842.2,1462.1000000000001" stroke-width="4.4" stroke-linejoin="miter" stroke-linecap="butt"/>
<polyline points="1852.8,1601.8 1842.2,1601.8 1842.2,1591.3999999999999" stroke-width="4.4" stroke-linejoin="miter" stroke-linecap="butt"/>
<polyline points="2143.4,1451.7 2154.0,1451.7 2154.0,1462.1000000000001" stroke-width="4.4" stroke-linejoin="miter" stroke-linecap="butt"/>
<polyline points="2143.4,1601.8 2154.0,1601.8 2154.0,1591.3999999999999" stroke-width="4.4" stroke-linejoin="miter" stroke-linecap="butt"/>
<line x1="1865.6" y1="1451.7" x2="1886.6" y2="1451.7" stroke-width="4.4" stroke-linecap="butt"/>
<line x1="1865.6" y1="1601.8" x2="1886.6" y2="1601.8" stroke-width="4.4" stroke-linecap="butt"/>
<line x1="1900.5" y1="1451.7" x2="1921.5" y2="1451.7" stroke-width="4.4" stroke-linecap="butt"/>
<line x1="1900.5" y1="1601.8" x2="1921.5" y2="1601.8" stroke-width="4.4" stroke-linecap="butt"/>
<line x1="1935.4" y1="1451.7" x2="1956.4" y2="1451.7" stroke-width="4.4" stroke-linecap="butt"/>
<line x1="1935.4" y1="1601.8" x2="1956.4" y2="1601.8" stroke-width="4.4" stroke-linecap="butt"/>
<line x1="1970.3000000000002" y1="1451.7" x2="1991.3000000000002" y2="1451.7" stroke-width="4.4" stroke-linecap="butt"/>
<line x1="1970.3000000000002" y1="1601.8" x2="1991.3000000000002" y2="1601.8" stroke-width="4.4" stroke-linecap="butt"/>
<line x1="2005.2000000000003" y1="1451.7" x2="2026.2000000000003" y2="1451.7" stroke-width="4.4" stroke-linecap="butt"/>
<line x1="2005.2000000000003" y1="1601.8" x2="2026.2000000000003" y2="1601.8" stroke-width="4.4" stroke-linecap="butt"/>
<line x1="2040.1000000000004" y1="1451.7" x2="2061.1000000000004" y2="1451.7" stroke-width="4.4" stroke-linecap="butt"/>
<line x1="2040.1000000000004" y1="1601.8" x2="2061.1000000000004" y2="1601.8" stroke-width="4.4" stroke-linecap="butt"/>
<line x1="2075.0000000000005" y1="1451.7" x2="2096.0000000000005" y2="1451.7" stroke-width="4.4" stroke-linecap="butt"/>
<line x1="2075.0000000000005" y1="1601.8" x2="2096.0000000000005" y2="1601.8" stroke-width="4.4" stroke-linecap="butt"/>
<line x1="2109.9000000000005" y1="1451.7" x2="2130.9000000000005" y2="1451.7" stroke-width="4.4" stroke-linecap="butt"/>
<line x1="2109.9000000000005" y1="1601.8" x2="2130.9000000000005" y2="1601.8" stroke-width="4.4" stroke-linecap="butt"/>
<line x1="1842.2" y1="1477.8" x2="1842.2" y2="1499.8" stroke-width="4.4" stroke-linecap="butt"/>
<line x1="2154.0" y1="1477.8" x2="2154.0" y2="1499.8" stroke-width="4.4" stroke-linecap="butt"/>
<line x1="1842.2" y1="1515.8" x2="1842.2" y2="1537.8" stroke-width="4.4" stroke-linecap="butt"/>
<line x1="2154.0" y1="1515.8" x2="2154.0" y2="1537.8" stroke-width="4.4" stroke-linecap="butt"/>
<line x1="1842.2" y1="1553.8" x2="1842.2" y2="1575.8" stroke-width="4.4" stroke-linecap="butt"/>
<line x1="2154.0" y1="1553.8" x2="2154.0" y2="1575.8" stroke-width="4.4" stroke-linecap="butt"/>
<polyline points="2107.9,1463.6 2117.4,1454.6 2126.9,1463.6" stroke-width="2.6" stroke-linejoin="miter" stroke-linecap="butt"/>
<line x1="2117.4" y1="1455" x2="2117.4" y2="1600" stroke-width="3.0" stroke-linecap="butt"/>
<circle cx="2117.4" cy="1526.5" r="5.2" fill="#000" stroke="none"/>
<line x1="2044" y1="1526.5" x2="2117.4" y2="1526.5" stroke-width="3.0" stroke-linecap="butt"/>
<polygon points="2027.3,1517.0 2045.3,1526.5 2027.3,1536.0" fill="#000" stroke="none"/>
<ellipse cx="2117.0" cy="1603.0" rx="9.8" ry="9.4" fill="#000" stroke="none"/>
<line x1="2103.9" y1="1613.4" x2="2130.9" y2="1613.4" stroke-width="2.9" stroke-linecap="butt"/>
<line x1="2108.0" y1="1619.0" x2="2126.0" y2="1619.0" stroke-width="2.0" stroke-linecap="butt"/>
<line x1="2113.1" y1="1624.1" x2="2121.9" y2="1624.1" stroke-width="2.0" stroke-linecap="butt"/>
<text x="2129.90" y="1646.00" font-size="30.9" textLength="73.16" lengthAdjust="spacingAndGlyphs" stroke="#000" stroke-width="1.0" stroke-linejoin="round">G301</text>
<text x="1898.20" y="1476.24" font-size="23.5" textLength="75.20" lengthAdjust="spacingAndGlyphs" stroke="#000" stroke-width="0.85" stroke-linejoin="round">Ground</text>
<text x="1897.50" y="1503.99" font-size="23.5" textLength="113.94" lengthAdjust="spacingAndGlyphs" stroke="#000" stroke-width="0.85" stroke-linejoin="round">Distribution</text>
<text x="1898.31" y="1531.74" font-size="23.5" textLength="116.27" lengthAdjust="spacingAndGlyphs" stroke="#000" stroke-width="0.85" stroke-linejoin="round">Schematics</text>
<text x="1897.84" y="1559.49" font-size="23.5" textLength="89.02" lengthAdjust="spacingAndGlyphs" stroke="#000" stroke-width="0.85" stroke-linejoin="round">in Wiring</text>
<text x="1898.31" y="1587.24" font-size="23.5" textLength="86.64" lengthAdjust="spacingAndGlyphs" stroke="#000" stroke-width="0.85" stroke-linejoin="round">Systems</text>
<text x="2165.08" y="1472.20" font-size="32.6" textLength="86.10" lengthAdjust="spacingAndGlyphs" stroke="#000" stroke-width="1.0" stroke-linejoin="round">Splice</text>
<text x="2164.00" y="1507.10" font-size="32.6" textLength="69.55" lengthAdjust="spacingAndGlyphs" stroke="#000" stroke-width="1.0" stroke-linejoin="round">Pack</text>
<text x="2165.16" y="1541.10" font-size="32.6" textLength="89.15" lengthAdjust="spacingAndGlyphs" stroke="#000" stroke-width="1.0" stroke-linejoin="round">SP301</text>
<text x="2165.09" y="1568.14" font-size="21.8" textLength="194.73" lengthAdjust="spacingAndGlyphs" stroke="#000" stroke-width="0.85" stroke-linejoin="round">(Indexing may vary)</text>
</svg>
</body></html>
